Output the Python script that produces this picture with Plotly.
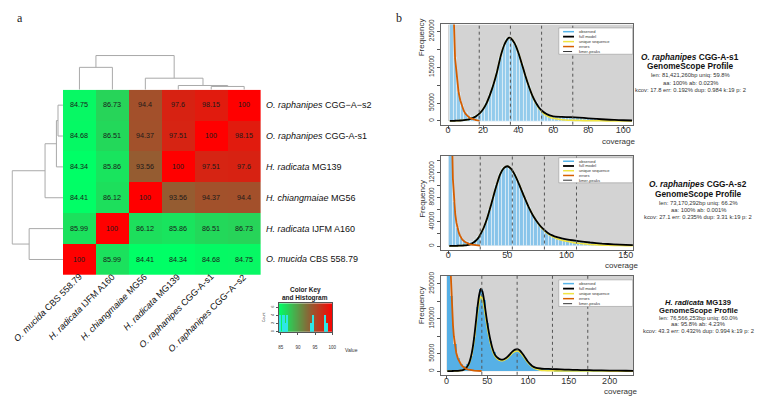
import plotly.graph_objects as go

W, H = 773, 403
def fx(p): return p / W
def fy(p): return 1 - p / H

# ---------------- panel a : ANI heatmap ----------------
col_labels = ["<i>O. mucida</i> CBS 558.79", "<i>H. radicata</i> IJFM A160", "<i>H. chiangmaiae</i> MG56",
              "<i>H. radicata</i> MG139", "<i>O. raphanipes</i> CGG-A-s1", "<i>O. raphanipes</i> CGG\u2212A\u2212s2"]
row_labels = ["<i>O. raphanipes</i> CGG\u2212A\u2212s2", "<i>O. raphanipes</i> CGG-A-s1", "<i>H. radicata</i> MG139",
              "<i>H. chiangmaiae</i> MG56", "<i>H. radicata</i> IJFM A160", "<i>O. mucida</i> CBS 558.79"]
ani_rows = [
    [84.75, 86.73, 94.4, 97.6, 98.15, 100],
    [84.68, 86.51, 94.37, 97.51, 100, 98.15],
    [84.34, 85.86, 93.56, 100, 97.51, 97.6],
    [84.41, 86.12, 100, 93.56, 94.37, 94.4],
    [85.99, 100, 86.12, 85.86, 86.51, 86.73],
    [100, 85.99, 84.41, 84.34, 84.68, 84.75],
]
# dendrogram merges: (child, child, height); node n+k is merge k
col_merges = [(4, 5, 3.3), (3, 6, 4.3), (2, 7, 11.7), (0, 1, 22.7), (9, 8, 34.7)]
row_merges = [(0, 1, 5.0), (2, 6, 6.6), (3, 7, 18.0), (4, 5, 34.0), (8, 9, 51.0)]
key_ticks = [85, 90, 95, 100]
count_ticks = [0, 2, 4, 6]

# ---------------- panel b : GenomeScope profiles ----------------
# plot 1 : O. raphanipes CGG-A-s1
obs1_cov = list(range(2, 105, 2))
obs1 = [800000, 176000, 81000, 42000, 23000, 15000, 12800, 15500, 22000, 33500, 50500, 74000, 103000,
        138000, 178000, 210000, 229000, 230000, 216000, 192000, 161000, 128000, 98000, 72000, 52000,
        37000, 27000, 20000, 15500, 13000, 12200, 11800, 11400, 11000, 10500, 10000, 9500, 8800, 8200,
        7500, 6700, 6000, 5200, 4600, 4100, 3600, 3100, 2700, 2300, 2000, 1700, 1400]
mod1_cov = [1, 2, 3, 4, 5, 6, 7, 8, 9, 10, 12, 14, 16, 18, 20, 22, 24, 26, 28, 30, 32, 34, 35, 36, 38, 40,
            42, 44, 46, 48, 50, 52, 54, 56, 58, 60, 65, 70, 75, 80, 85, 90, 95, 100, 105]
model1 = [200, 300, 400, 600, 800, 1000, 1300, 1700, 2200, 2900, 4800, 8000, 13500, 21000, 33000, 50000,
          74000, 103000, 138000, 180000, 211000, 229000, 232000, 230000, 216000, 192000, 161000, 128000,
          98000, 72000, 52000, 37000, 27000, 20000, 15500, 13000, 11500, 10500, 9200, 7500, 5600, 4100,
          2900, 2000, 1400]
unique1 = [200, 300, 400, 600, 800, 1000, 1300, 1700, 2200, 2900, 4800, 8000, 13500, 21000, 33000, 50000,
           74000, 103000, 138000, 180000, 211000, 229000, 232000, 230000, 216000, 192000, 161000, 128000,
           98000, 71500, 50500, 34500, 23500, 15500, 10500, 7500, 3500, 2000, 1200, 800, 500, 350, 250, 150, 100]
err1_cov = [1, 2, 3, 4, 5, 6, 7, 8, 9, 10, 11, 12, 13, 14, 15, 16, 17, 18]
err1 = [2000000, 800000, 330000, 175000, 115000, 80000, 57000, 40000, 28000, 19500, 14000, 10000, 7000,
        4800, 3300, 2300, 1600, 1100]
peaks1 = [17.8, 35.6, 53.4, 71.2]

# plot 2 : O. raphanipes CGG-A-s2
obs2_cov = list(range(2, 157, 3))
obs2 = [500000, 72300, 29500, 14000, 8100, 6000, 6300, 9500, 15500, 25500, 40500, 59000, 81000, 100000,
        118000, 128000, 131000, 127000, 118000, 106000, 92000, 77500, 64000, 52500, 43000, 35000, 28500,
        23500, 19500, 16600, 14500, 13000, 11800, 10700, 9800, 9000, 8200, 7400, 6700, 6000, 5400, 4900,
        4400, 3900, 3500, 3100, 2800, 2500, 2200, 2000, 1800, 1600]
mod2_cov = [1, 2, 3, 4, 5, 6, 8, 10, 12, 14, 16, 18, 20, 22, 24, 26, 28, 30, 33, 36, 40, 44, 47, 50, 53, 56,
            60, 64, 68, 72, 76, 80, 84, 88, 92, 96, 100, 105, 110, 120, 130, 140, 150, 156]
model2 = [100, 150, 200, 250, 300, 350, 450, 600, 800, 1100, 1600, 2500, 4000, 6500, 10000, 15000, 22000,
          30000, 46000, 66000, 94000, 118000, 128000, 131000, 127000, 118000, 101000, 82000, 64000, 49000,
          37500, 28500, 22000, 17500, 14500, 12500, 11000, 9500, 8200, 5800, 4000, 2800, 1900, 1500]
unique2 = [100, 150, 200, 250, 300, 350, 450, 600, 800, 1100, 1600, 2500, 4000, 6500, 10000, 15000, 22000,
           30000, 46000, 66000, 94000, 118000, 128000, 131000, 127000, 118000, 101000, 82000, 64000, 49000,
           37000, 27500, 20500, 15500, 12000, 9500, 8000, 6000, 4500, 2600, 1500, 1000, 700, 600]
err2_cov = [1, 2, 3, 4, 5, 6, 7, 8, 9, 10, 12, 14, 16, 18, 20, 22, 24, 27]
err2 = [1500000, 500000, 200000, 110000, 72000, 52000, 38000, 29000, 22000, 17000, 10500, 7000, 4800,
        3300, 2300, 1600, 1100, 700]
peaks2 = [27.1, 54.2, 81.3, 108.4]

# plot 3 : H. radicata MG139
obs3_cov = list(range(2, 228, 4))
obs3 = [1200000, 215000, 78600, 37000, 20500, 14500, 20000, 43700, 99000, 183700, 235300, 204000, 138000,
        87000, 54000, 40000, 33500, 34000, 39500, 49000, 58500, 62800, 59000, 47000, 33500, 21500, 13800,
        9500, 7900, 7100, 6600, 6200, 5900, 5500, 5200, 4850, 4500, 4200, 3900, 3600, 3400, 3150, 2900,
        2700, 2500, 2350, 2200, 2050, 1900, 1780, 1650, 1550, 1420, 1300, 1200, 1100, 950]
mod3_cov = [1, 2, 4, 6, 8, 10, 12, 14, 16, 18, 20, 22, 24, 26, 28, 30, 32, 34, 36, 38, 40, 42, 44, 46, 48,
            50, 52, 54, 56, 58, 60, 63, 66, 69, 72, 75, 78, 81, 84, 87, 90, 93, 96, 99, 102, 105, 110, 115,
            120, 130, 140, 150, 160, 170, 180, 200, 220, 229]
model3 = [100, 150, 250, 350, 450, 600, 800, 1000, 1400, 2000, 3200, 5200, 9000, 15000, 25000, 41000,
          65000, 98000, 140000, 183000, 217000, 235000, 228000, 204000, 170000, 138000, 110000, 87000,
          68000, 54000, 45000, 37500, 33500, 33000, 36000, 41500, 49000, 56500, 61500, 63000, 59000, 50500,
          40500, 30000, 21500, 15000, 9500, 7600, 6800, 5900, 5000, 4200, 3500, 2900, 2400, 1700, 1100, 900]
unique3 = [100, 150, 250, 350, 450, 600, 800, 1000, 1400, 2000, 3200, 5200, 9000, 14000, 23000, 38000,
           60000, 90000, 129000, 168000, 199000, 214000, 208000, 186000, 155000, 125000, 100000, 79000,
           62000, 49000, 41000, 34000, 30500, 30000, 33000, 38000, 45000, 52000, 56500, 58000, 54500, 46500,
           37000, 27000, 19000, 12500, 6000, 3000, 1800, 1000, 700, 500, 400, 300, 250, 200, 150, 100]
err3_cov = [1, 2, 3, 4, 5, 6, 7, 8, 9, 10, 12, 14, 16, 18, 20, 22, 24, 26, 28, 30, 34, 38, 43]
err3 = [3000000, 1200000, 600000, 420000, 290000, 215000, 165000, 130000, 100000, 78000, 52000, 36000,
        26000, 18500, 13000, 9300, 6700, 4900, 3600, 2700, 1500, 900, 500]
peaks3 = [43.3, 86.6, 129.9, 173.2]

gs_titles = ["<i>O. raphanipes</i> CGG-A-s1", "<i>O. raphanipes</i> CGG-A-s2", "<i>H. radicata</i> MG139"]
gs_stats = [
    ["len: 81,421,260bp uniq: 59.8%", "aa: 100% ab: 0.023%", "kcov: 17.8 err: 0.192% dup: 0.984 k:19 p: 2"],
    ["len: 73,170,292bp uniq: 66.2%", "aa: 100% ab: 0.001%", "kcov: 27.1 err: 0.235% dup: 3.31 k:19 p: 2"],
    ["len: 76,566,253bp uniq: 60.0%", "aa: 95.8% ab: 4.23%", "kcov: 43.3 err: 0.432% dup: 0.994 k:19 p: 2"],
]
legend_items = ["observed", "full model", "unique sequence", "errors", "kmer-peaks"]

# ------------------------------------------------------------------
fig = go.Figure()
annotations = []
shapes = []


def note(x, y, text, size, color='#222', xanchor='center', yanchor='middle', **kw):
    annotations.append(dict(x=fx(x), y=fy(y), xref='paper', yref='paper', text=text, showarrow=False,
                            xanchor=xanchor, yanchor=yanchor, font=dict(size=size, color=color,
                            family=kw.pop('family', 'Liberation Sans, Arial, sans-serif')), **kw))


zmin = min(min(r) for r in ani_rows)
zmax = max(max(r) for r in ani_rows)
cscale = [[0, '#00FF66'], [0.55, '#8B6536'], [1, '#FF0000']]

fig.add_trace(go.Heatmap(
    z=ani_rows, x=list(range(6)), y=list(range(6)), zmin=zmin, zmax=zmax, colorscale=cscale,
    showscale=False, text=[[f"{v:g}" for v in r] for r in ani_rows], texttemplate="%{text}",
    textfont=dict(size=7.2, color='#1a1a1a'), hoverinfo='skip', xaxis='x', yaxis='y'))


def dendro(merges, n):
    pos = {i: float(i) for i in range(n)}
    hgt = {i: 0.0 for i in range(n)}
    a, b = [], []
    for k, (l, r, h) in enumerate(merges):
        for c in (l, r):
            a += [pos[c], pos[c], None]
            b += [hgt[c], h, None]
        a += [pos[l], pos[r], None]
        b += [h, h, None]
        pos[n + k] = (pos[l] + pos[r]) / 2
        hgt[n + k] = h
    return a, b

dcol = '#A9A9A9'
ca, cb = dendro(col_merges, 6)
fig.add_trace(go.Scatter(x=ca, y=cb, mode='lines', line=dict(color=dcol, width=1),
                         hoverinfo='skip', xaxis='x2', yaxis='y2'))
ra, rb = dendro(row_merges, 6)
fig.add_trace(go.Scatter(x=rb, y=ra, mode='lines', line=dict(color=dcol, width=1),
                         hoverinfo='skip', xaxis='x3', yaxis='y3'))

for i, lab in enumerate(row_labels):
    annotations.append(dict(x=fx(265), xref='paper', y=i, yref='y', text=lab, showarrow=False,
                            xanchor='left', yanchor='middle', font=dict(size=9, color='#111')))
for i, lab in enumerate(col_labels):
    annotations.append(dict(x=i, xref='x', y=fy(268), yref='paper', text=lab, showarrow=False,
                            textangle=-45, xanchor='right', yanchor='top', xshift=7,
                            font=dict(size=9, color='#111')))

# colour key
fig.add_trace(go.Heatmap(z=[[zmin, zmax], [zmin, zmax]], x=[zmin, zmax], y=[0, 7], zmin=zmin, zmax=zmax,
                         colorscale=cscale, zsmooth='best', showscale=False, hoverinfo='skip',
                         xaxis='x4', yaxis='y4'))
fig.add_trace(go.Histogram(x=[v for r in ani_rows for v in r], xbins=dict(start=84, end=101, size=0.5),
                           marker=dict(color='#2EE6E6', line=dict(width=0)), hoverinfo='skip',
                           xaxis='x4', yaxis='y4'))
note(307, 289, '<b>Color Key</b>', 6.5)
note(307, 297.5, '<b>and Histogram</b>', 6.5)
note(266, 317, 'Count', 3.5, '#333', textangle=-90)
note(345, 350.7, 'Value', 5, '#333', xanchor='left')
note(20, 13, 'a', 12, family='Liberation Serif')
note(401, 13, 'b', 12, family='Liberation Serif')

# GenomeScope plots
gs = [
    dict(ocov=obs1_cov, obs=obs1, step=2, mcov=mod1_cov, model=model1, uniq=unique1, ecov=err1_cov,
         err=err1, peaks=peaks1, bar='#93CBEC', edge=0.5),
    dict(ocov=obs2_cov, obs=obs2, step=3, mcov=mod2_cov, model=model2, uniq=unique2, ecov=err2_cov,
         err=err2, peaks=peaks2, bar='#88C4EA', edge=0.5),
    dict(ocov=obs3_cov, obs=obs3, step=4, mcov=mod3_cov, model=model3, uniq=unique3, ecov=err3_cov,
         err=err3, peaks=peaks3, bar='#56B0E6', edge=0),
]
xr = [[-4.2, 105.7], [-6.3, 156.3], [-7.1, 228.9]]
yr = [[-10348, 269048], [-5692, 147992], [-10480, 272480]]
ydom = [[121.5, 19.7], [248.2, 153.2], [375.4, 275.0]]
xt = [[0, 20, 40, 60, 80, 100], [0, 50, 100, 150], [0, 50, 100, 150, 200]]
yt = [[0, 50000, 100000, 150000, 200000, 250000],
      [0, 20000, 40000, 60000, 80000, 100000, 120000, 140000],
      [0, 50000, 100000, 150000, 200000, 250000]]
ytt = [['0', '50000', '', '150000', '', '250000'],
       ['0', '', '40000', '', '80000', '', '120000', ''],
       ['0', '50000', '', '150000', '', '250000']]
cov_lab_pos = [(621.7, 138.5), (625, 264), (624, 392.5)]
freq_y = [33, 197, 305]
text_x = [694, 702, 702]
text_y = [[53, 62, 70.7, 78.7, 86], [181.7, 191.7, 200.7, 208.3, 215.7], [301.5, 310.3, 317.5, 324.2, 330.9]]
title_size = [8.3, 8.3, 7.6]
leg_box = [(23.3, 50), (155, 180.5), (279, 306)]

layout_axes = {}
for k, d in enumerate(gs):
    n = 5 + k
    xa, ya = f'x{n}', f'y{n}'
    fig.add_trace(go.Bar(x=d['ocov'], y=d['obs'], width=d['step'],
                         marker=dict(color=d['bar'], line=dict(color='white', width=d['edge'])),
                         hoverinfo='skip', xaxis=xa, yaxis=ya))
    fig.add_trace(go.Scatter(x=d['mcov'], y=d['uniq'], mode='lines',
                             line=dict(color='#F0E442', width=1.6, shape='spline', smoothing=0.5),
                             hoverinfo='skip', xaxis=xa, yaxis=ya))
    fig.add_trace(go.Scatter(x=d['mcov'], y=d['model'], mode='lines',
                             line=dict(color='black', width=1.8, shape='spline', smoothing=0.5),
                             hoverinfo='skip', xaxis=xa, yaxis=ya))
    fig.add_trace(go.Scatter(x=d['ecov'], y=d['err'], mode='lines',
                             line=dict(color='#D55E00', width=1.8),
                             hoverinfo='skip', xaxis=xa, yaxis=ya))
    shapes.append(dict(type='rect', xref=xa, yref=ya, x0=0, y0=0, x1=xr[k][1], y1=yr[k][1],
                       fillcolor='#D3D3D3', line=dict(width=0), layer='below'))
    for p in d['peaks']:
        shapes.append(dict(type='line', xref=xa, yref=f'{ya} domain', x0=p, x1=p, y0=0, y1=1,
                           line=dict(color='#555', width=1, dash='dot')))
    layout_axes[f'xaxis{n}'] = dict(domain=[fx(443), fx(636.5)], range=xr[k], anchor=ya, tickvals=xt[k],
                                    ticks='outside', ticklen=3, tickcolor='#555', showline=True,
                                    mirror=True, linecolor='#666', linewidth=1, showgrid=False,
                                    zeroline=False, tickfont=dict(size=9, color='#333'),
                                    ticklabelstandoff=-6)
    layout_axes[f'yaxis{n}'] = dict(domain=[fy(ydom[k][0]), fy(ydom[k][1])], range=yr[k], anchor=xa,
                                    tickvals=yt[k], ticktext=ytt[k], tickangle=-90, ticks='outside',
                                    ticklen=3, tickcolor='#555', showline=True, mirror=True,
                                    linecolor='#666', linewidth=1, showgrid=False, zeroline=False,
                                    tickfont=dict(size=6.5, color='#333'))
    cx, cy = cov_lab_pos[k]
    note(cx, cy, 'coverage', 8, '#333')
    note(424, freq_y[k], 'Frequency', 8, '#333', textangle=-90)
    ty = text_y[k]
    note(text_x[k], ty[0], f'<b>{gs_titles[k]}</b>', title_size[k], '#111')
    note(text_x[k], ty[1], '<b>GenomeScope Profile</b>', title_size[k], '#111')
    for j, s in enumerate(gs_stats[k]):
        note(text_x[k], ty[2 + j], s, 5.8, '#333')
    # legend box
    b0, b1 = leg_box[k]
    shapes.append(dict(type='rect', xref='paper', yref='paper', x0=fx(561.7), x1=fx(636), y0=fy(b1),
                       y1=fy(b0), fillcolor='white', line=dict(color='#999', width=0.6)))
    styles = [dict(color='#56B4E9', width=1.5), dict(color='black', width=1.8),
              dict(color='#F0E442', width=1.5), dict(color='#D55E00', width=1.5),
              dict(color='#333', width=1, dash='dash')]
    for j, item in enumerate(legend_items):
        ey = b0 + (b1 - b0) * (j + 0.75) / 5.3
        shapes.append(dict(type='line', xref='paper', yref='paper', x0=fx(566), x1=fx(577), y0=fy(ey),
                           y1=fy(ey), line=styles[j]))
        note(580, ey, item, 4, '#333', xanchor='left')

fig.update_layout(
    width=W, height=H, margin=dict(l=0, r=0, t=0, b=0), paper_bgcolor='white', plot_bgcolor='white',
    showlegend=False, bargap=0, font=dict(family='Liberation Sans, Arial, sans-serif', color='#222'),
    xaxis=dict(domain=[fx(63.3), fx(262)], range=[-0.5, 5.5], visible=False, anchor='y'),
    yaxis=dict(domain=[fy(274), fy(86)], range=[5.5, -0.5], visible=False, anchor='x'),
    xaxis2=dict(domain=[fx(63.3), fx(262)], range=[-0.5, 5.5], visible=False, anchor='y2'),
    yaxis2=dict(domain=[fy(86), fy(50)], range=[0, 36], visible=False, anchor='x2'),
    xaxis3=dict(domain=[fx(11.3), fx(63.3)], range=[52, 0], visible=False, anchor='y3'),
    yaxis3=dict(domain=[fy(274), fy(86)], range=[5.5, -0.5], visible=False, anchor='x3'),
    xaxis4=dict(domain=[fx(280), fx(334)], range=[zmin, zmax], anchor='y4', tickvals=key_ticks,
                ticks='outside', ticklen=2, tickcolor='#555', showline=True, mirror=True, linecolor='#555',
                linewidth=0.6, showgrid=False, zeroline=False, tickfont=dict(size=4.5, color='#333'),
                ticklabelstandoff=9),
    yaxis4=dict(domain=[fy(331.7), fy(302.7)], range=[0, 7], anchor='x4', tickvals=count_ticks,
                ticks='outside', ticklen=2, tickcolor='#555', tickangle=-90, showline=True, mirror=True,
                linecolor='#555', linewidth=0.6, showgrid=False, zeroline=False,
                tickfont=dict(size=4, color='#333')),
    annotations=annotations, shapes=shapes, **layout_axes)

fig.write_html("out.html", config={'displayModeBar': False},
               post_script="document.body.style.margin='0';")
